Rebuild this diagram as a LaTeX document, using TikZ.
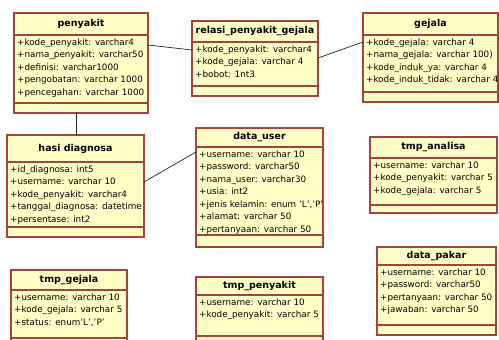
\documentclass[tikz,border=0pt]{standalone}
\usepackage{fontspec}
\setmainfont{DejaVu Sans}
\definecolor{boxfill}{HTML}{FFFFC6}
\definecolor{boxline}{HTML}{A8423F}
\definecolor{dotc}{HTML}{CCCCCC}
\tikzset{
  tbl/.style={draw=boxline, fill=boxfill, line width=1.1pt, inner sep=0pt, outer sep=0pt, rectangle},
  sepline/.style={draw=boxline, line width=1.1pt},
  ttl/.style={font=\bfseries\fontsize{9.5}{11}\selectfont, inner sep=0pt},
  attr/.style={font=\fontsize{8.8}{12.5}\selectfont, inner sep=0pt, align=left, anchor=north west},
  conn/.style={draw=black!85, line width=0.7pt}
}
\newcommand{\umltable}[9]{%
  \node[tbl, anchor=north west, minimum width={(#4-#2)*1pt}, minimum height={(#5-#3)*1pt}] (#1) at (#2,#3) {};
  \draw[sepline] (#2,#6) -- (#4,#6);
  \draw[sepline] (#2,#7) -- (#4,#7);
  \node[ttl] (#1-title) at ({(#2+#4)/2},{(#3+#6)/2}) {#8};
  \node[attr] (#1-attr) at ({#2+3},{#6+3.5}) {#9};
}
\begin{document}
\begin{tikzpicture}[x=1pt,y=-1pt]
\useasboundingbox (0,0) rectangle (499,340);
\clip (0,0) rectangle (499,340);
\fill[white] (0,0) rectangle (499,340);
\foreach \x in {5,13,...,499} \foreach \y in {5,13,...,340} \fill[dotc] (\x,\y) circle (0.55pt);

\umltable{pen}{14}{13}{148}{113}{35}{103}{penyakit}{+kode\_penyakit: varchar4\\+nama\_penyakit: varchar50\\+definisi: varchar1000\\+pengobatan: varchar 1000\\+pencegahan: varchar 1000}
\umltable{rel}{192}{21}{318}{96}{42}{86}{relasi\_penyakit\_gejala}{+kode\_penyakit: varchar4\\+kode\_gejala: varchar 4\\+bobot: 1nt3}
\umltable{gej}{363}{13}{498}{102}{35}{92}{gejala}{+kode\_gejala: varchar 4\\+nama\_gejala: varchar 100)\\+kode\_induk\_ya: varchar 4\\+kode\_induk\_tidak: varchar 4}
\umltable{hasi}{7}{135}{144}{237}{162}{227}{hasi diagnosa}{+id\_diagnosa: int5\\+username: varchar 10\\+kode\_penyakit: varchar4\\+tanggal\_diagnosa: datetime\\+persentase: int2}
\umltable{duser}{196}{128}{323}{247}{147}{235}{data\_user}{+username: varchar 10\\+password: varchar50\\+nama\_user: varchar30\\+usia: int2\\+jenis kelamin: enum 'L','P'\\+alamat: varchar 50\\+pertanyaan: varchar 50}
\umltable{tana}{370}{137}{497}{213}{158}{205}{tmp\_analisa}{+username: varchar 10\\+kode\_penyakit: varchar 5\\+kode\_gejala: varchar 5}
\umltable{tgej}{11}{270}{127}{350}{290}{338}{tmp\_gejala}{+username: varchar 10\\+kode\_gejala: varchar 5\\+status: enum'L','P'}
\umltable{tpen}{196}{277}{323}{350}{295}{336}{tmp\_penyakit}{+username: varchar 10\\+kode\_penyakit: varchar 5}
\umltable{dpak}{377}{247}{496}{335}{265}{325}{data\_pakar}{+username: varchar 10\\+password: varchar50\\+pertanyaan: varchar 50\\+jawaban: varchar 50}

\draw[conn] ([yshift=-32pt]pen.north east) -- ([yshift=-29pt]rel.north west);
\draw[conn] ([yshift=-37pt]rel.north east) -- ([yshift=-29pt]gej.north west);
\draw[conn] ([xshift=62pt]pen.south west) -- ([xshift=69pt]hasi.north west);
\draw[conn] ([yshift=-47pt]hasi.north east) -- ([yshift=-24pt]duser.north west);
\end{tikzpicture}
\end{document}
